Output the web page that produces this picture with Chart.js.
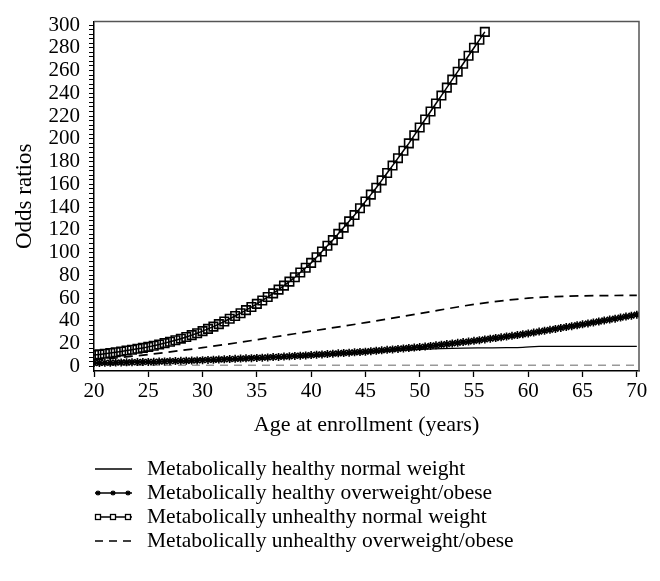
<!DOCTYPE html>
<html>
<head>
<meta charset="utf-8">
<script src="https://cdn.jsdelivr.net/npm/chart.js@4.4.1/dist/chart.umd.min.js"></script>
<style>
  html, body { margin: 0; padding: 0; background: #fff; }
  #wrap { width: 660px; height: 581px; }
</style>
</head>
<body>
<div id="wrap"><canvas id="myChart" width="660" height="581"></canvas></div>
<script>
// ages every half year, 20 to 70
const ages = [
  20, 20.5, 21, 21.5, 22, 22.5, 23, 23.5, 24, 24.5,
  25, 25.5, 26, 26.5, 27, 27.5, 28, 28.5, 29, 29.5,
  30, 30.5, 31, 31.5, 32, 32.5, 33, 33.5, 34, 34.5,
  35, 35.5, 36, 36.5, 37, 37.5, 38, 38.5, 39, 39.5,
  40, 40.5, 41, 41.5, 42, 42.5, 43, 43.5, 44, 44.5,
  45, 45.5, 46, 46.5, 47, 47.5, 48, 48.5, 49, 49.5,
  50, 50.5, 51, 51.5, 52, 52.5, 53, 53.5, 54, 54.5,
  55, 55.5, 56, 56.5, 57, 57.5, 58, 58.5, 59, 59.5,
  60, 60.5, 61, 61.5, 62, 62.5, 63, 63.5, 64, 64.5,
  65, 65.5, 66, 66.5, 67, 67.5, 68, 68.5, 69, 69.5,
  70
];

// Metabolically healthy overweight/obese (stars), 20 to 70
const healthyOverweight = [
  3.0, 3.1, 3.2, 3.3, 3.4, 3.5, 3.6, 3.7, 3.8, 3.9,
  4.0, 4.1, 4.3, 4.4, 4.6, 4.7, 4.9, 5.0, 5.2, 5.3,
  5.5, 5.7, 5.9, 6.1, 6.3, 6.5, 6.7, 6.9, 7.1, 7.3,
  7.5, 7.7, 7.9, 8.2, 8.4, 8.7, 8.9, 9.2, 9.5, 9.7,
  10.0, 10.3, 10.6, 10.9, 11.2, 11.5, 11.8, 12.1, 12.4, 12.7,
  13.0, 13.4, 13.8, 14.2, 14.6, 15.0, 15.4, 15.8, 16.2, 16.6,
  17.0, 17.5, 18.0, 18.6, 19.1, 19.7, 20.2, 20.8, 21.4, 21.9,
  22.5, 23.1, 23.7, 24.4, 25.0, 25.6, 26.3, 26.9, 27.6, 28.3,
  29.0, 29.8, 30.6, 31.4, 32.2, 33.0, 33.8, 34.6, 35.4, 36.2,
  37.0, 37.8, 38.7, 39.5, 40.4, 41.2, 42.0, 42.9, 43.8, 44.6,
  45.5
];

// Metabolically unhealthy normal weight (squares), 20 to 56
const unhealthyNormal = [
  10.0, 10.6, 11.2, 11.8, 12.5, 13.2, 14.0, 14.7, 15.5, 16.3,
  17.2, 18.2, 19.3, 20.5, 21.7, 23.0, 24.4, 25.9, 27.5, 29.2,
  31.0, 33.0, 35.0, 37.2, 39.5, 41.9, 44.3, 46.8, 49.5, 52.2,
  55.0, 58.0, 61.0, 64.2, 67.5, 71.0, 74.5, 78.4, 82.5, 86.7,
  91.0, 96.0, 101, 106, 111, 116.5, 122, 127.5, 133, 139,
  145, 151, 157, 163.5, 170, 176.5, 183, 189.5, 196, 203,
  210, 217, 224, 231, 238, 245, 252, 259, 266, 273,
  280, 287, 294
];

// Metabolically healthy normal weight (solid)
const healthyNormalAges = [20, 25, 30, 35, 40, 45, 50, 52, 54, 56, 58, 59.5, 61, 63, 66, 70];
const healthyNormal = [3.0, 4.0, 5.3, 7.2, 9.6, 12.4, 15.0, 15.7, 16.1, 16.3, 16.5, 16.8, 17.6, 17.6, 17.6, 17.6];

// Metabolically unhealthy overweight/obese (dashed)
const unhealthyOverweightAges = [20, 25, 30, 35, 40, 45, 50, 55, 60, 62.5, 65, 67.5, 70];
const unhealthyOverweight = [5.5, 10.5, 16.5, 23.5, 31.0, 38.5, 46.5, 54.5, 60.0, 61.3, 62.0, 62.3, 62.5];

// reference line at odds ratio 1
const refAges = [20, 70];
const refLine = [1, 1];

const xTicks = [20, 25, 30, 35, 40, 45, 50, 55, 60, 65, 70];
const yTicks = [0, 20, 40, 60, 80, 100, 120, 140, 160, 180, 200, 220, 240, 260, 280, 300];

const legendLabels = [
  "Metabolically healthy normal weight",
  "Metabolically healthy overweight/obese",
  "Metabolically unhealthy normal weight",
  "Metabolically unhealthy overweight/obese",
];

const serif = '"Liberation Serif", "Times New Roman", serif';
Chart.defaults.font.family = serif;
Chart.defaults.color = "#000";

function toPoints(xs, ys) {
  return ys.map((v, i) => ({ x: xs[i], y: v }));
}

// minor ticks every 4 units, labels only on the major ones
const yAllTicks = [];
for (let v = 0; v <= 300; v += 4) yAllTicks.push(v);

// gray frame on top and right
const framePlugin = {
  id: "frame",
  afterDatasetsDraw(chart) {
    const { ctx, chartArea } = chart;
    ctx.save();
    ctx.strokeStyle = "#555";
    ctx.lineWidth = 1.5;
    ctx.beginPath();
    ctx.moveTo(chartArea.left, chartArea.top);
    ctx.lineTo(chartArea.right, chartArea.top);
    ctx.lineTo(chartArea.right, chartArea.bottom);
    ctx.stroke();
    ctx.restore();
  },
};

function drawStar(ctx, x, y, r) {
  ctx.beginPath();
  for (let k = 0; k < 4; k++) {
    const a = (k * Math.PI) / 4;
    ctx.moveTo(x - r * Math.cos(a), y - r * Math.sin(a));
    ctx.lineTo(x + r * Math.cos(a), y + r * Math.sin(a));
  }
  ctx.stroke();
}

// legend below the plot, one item per row
const legendPlugin = {
  id: "rowLegend",
  afterDraw(chart) {
    const ctx = chart.ctx;
    const rowsY = [469, 493, 517, 541];
    const x0 = 95, x1 = 132, textX = 147;
    const markX = [98, 113, 128];
    ctx.save();
    ctx.strokeStyle = "#000";
    ctx.fillStyle = "#000";
    legendLabels.forEach((label, i) => {
      const y = rowsY[i];
      ctx.lineWidth = i === 1 ? 1.5 : 1.3;
      ctx.setLineDash(i === 3 ? [8, 6] : []);
      ctx.beginPath();
      ctx.moveTo(x0, y);
      ctx.lineTo(x1, y);
      ctx.stroke();
      ctx.setLineDash([]);
      if (i === 1) {
        ctx.lineWidth = 1.3;
        markX.forEach((mx) => drawStar(ctx, mx, y, 2.6));
      }
      if (i === 2) {
        ctx.lineWidth = 1.3;
        markX.forEach((mx) => {
          ctx.fillStyle = "#fff";
          ctx.fillRect(mx - 2.5, y - 2.5, 5, 5);
          ctx.strokeRect(mx - 2.5, y - 2.5, 5, 5);
        });
        ctx.fillStyle = "#000";
      }
      ctx.font = "21.5px " + serif;
      ctx.textBaseline = "middle";
      ctx.textAlign = "left";
      ctx.fillText(label, textX, y);
    });
    ctx.restore();
  },
};

const ctx = document.getElementById("myChart");

new Chart(ctx, {
  type: "line",
  data: {
    datasets: [
      {
        label: legendLabels[0],
        data: toPoints(healthyNormalAges, healthyNormal),
        borderColor: "#000",
        borderWidth: 1.3,
        pointRadius: 0,
        cubicInterpolationMode: "monotone",
      },
      {
        label: legendLabels[1],
        data: toPoints(ages, healthyOverweight),
        borderColor: "#000",
        borderWidth: 1.8,
        pointStyle: "star",
        pointRadius: 4,
        pointBorderWidth: 1.6,
        pointBorderColor: "#000",
        pointBackgroundColor: "#000",
      },
      {
        label: legendLabels[2],
        data: toPoints(ages.slice(0, unhealthyNormal.length), unhealthyNormal),
        borderColor: "#000",
        borderWidth: 1.5,
        pointStyle: "rect",
        pointRadius: 6,
        pointBorderWidth: 1.6,
        pointBorderColor: "#000",
        pointBackgroundColor: "rgba(0,0,0,0)",
      },
      {
        label: legendLabels[3],
        data: toPoints(unhealthyOverweightAges, unhealthyOverweight),
        borderColor: "#000",
        borderWidth: 1.7,
        borderDash: [9, 6],
        pointRadius: 0,
        cubicInterpolationMode: "monotone",
      },
      {
        label: "reference",
        data: toPoints(refAges, refLine),
        borderColor: "#999",
        borderWidth: 1.5,
        borderDash: [8, 6],
        pointRadius: 0,
      },
    ],
  },
  options: {
    responsive: false,
    animation: false,
    events: [],
    layout: { padding: { top: 19, right: 21, left: 0, bottom: 140 } },
    plugins: {
      legend: { display: false },
      tooltip: { enabled: false },
    },
    scales: {
      x: {
        type: "linear",
        min: 20,
        max: 70.2,
        afterBuildTicks: (scale) => {
          scale.ticks = xTicks.map((v) => ({ value: v }));
        },
        afterFit: (scale) => {
          scale.height = 70;
        },
        grid: { drawOnChartArea: false, tickLength: 6, tickColor: "#000", tickWidth: 1.3 },
        border: { color: "#000", width: 1.5 },
        ticks: { font: { size: 21 }, color: "#000", padding: 2, maxRotation: 0, autoSkip: false },
        title: {
          display: true,
          text: "Age at enrollment (years)",
          font: { size: 22 },
          color: "#000",
          padding: { top: 0, bottom: 3 },
        },
      },
      y: {
        type: "linear",
        min: -4,
        max: 303,
        afterBuildTicks: (scale) => {
          scale.ticks = yAllTicks.map((v) => ({ value: v }));
        },
        afterFit: (scale) => {
          scale.width = 94;
        },
        grid: { drawOnChartArea: false, tickLength: 5, tickColor: "#000", tickWidth: 1 },
        border: { color: "#000", width: 1.5 },
        ticks: {
          font: { size: 21 },
          color: "#000",
          padding: 9,
          autoSkip: false,
          callback: (v) => (yTicks.includes(v) ? String(v) : ""),
        },
        title: {
          display: true,
          text: "Odds ratios",
          font: { size: 23 },
          color: "#000",
          padding: { top: 11, bottom: 0 },
        },
      },
    },
  },
  plugins: [framePlugin, legendPlugin],
});
</script>
</body>
</html>
